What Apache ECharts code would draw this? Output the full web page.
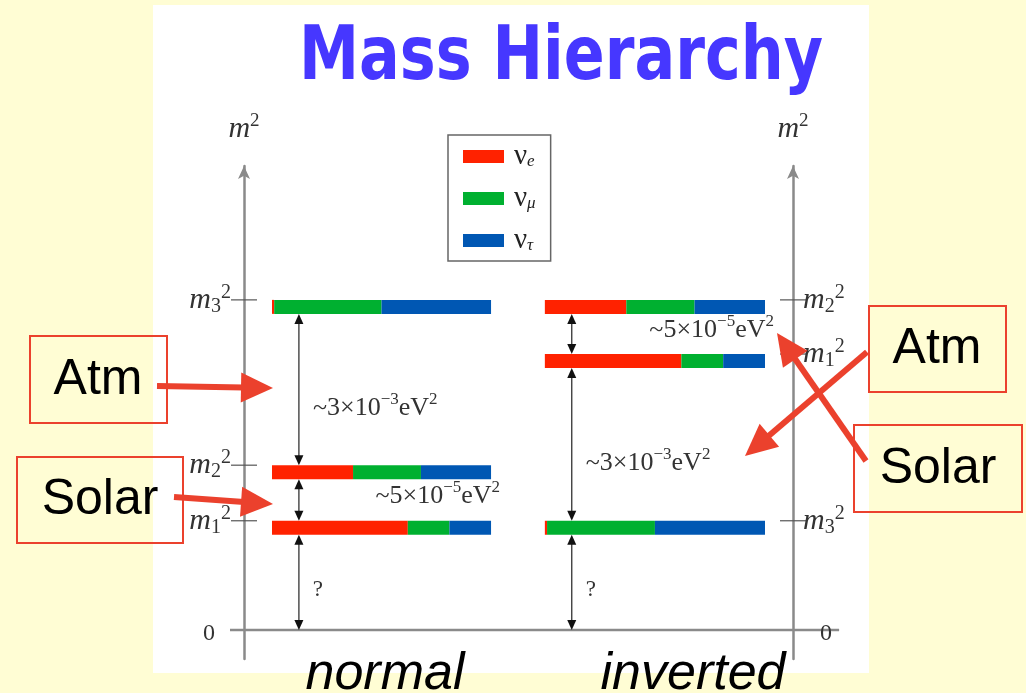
<!DOCTYPE html>
<html><head><meta charset="utf-8">
<script src="https://cdn.jsdelivr.net/npm/echarts@6/dist/echarts.min.js"></script>
<style>html,body{margin:0;padding:0;background:#FFFDD4;}#c{width:1026px;height:693px;}</style>
</head><body><div id="c"></div>
<script>
// ================= DATA =================
const titleText = 'Mass Hierarchy';
const hierarchyNames = ['normal', 'inverted'];
const flavorNames = ['νe', 'νμ', 'ντ'];
const massStates = ['1', '2', '3'];
// m1², m2², m3² levels (schematic units on the m² axis)
const normalLevels = [22.6, 34.1, 68.3];
const invertedLevels = [57.1, 68.3, 22.6];
// flavour content of m1, m2, m3
const fracE = [0.62, 0.37, 0.01];
const fracMu = [0.19, 0.31, 0.49];
const fracTau = [0.19, 0.32, 0.50];
const atmText = '~3×10{sup|−3}eV{sup|2}';
const solarText = '~5×10{sup|−5}eV{sup|2}';
const unknownText = '?';
const zeroLabel = '0';
const calloutNames = ['Atm', 'Solar'];

// ================= LAYOUT / STYLE =================
const LAYOUT = {
  barX: { normal: [5.1, 45.0], inverted: [54.8, 94.9] },
  arrowX: { normal: 10.0, inverted: 59.7 },
  axisX: { normal: 0, inverted: 100 },
  zeroExtent: [-2.55, 108.4],
  barH: 14
};
const COLORS = ['#FF2200', '#00B030', '#0057B3'];
const RED = '#EB412D';
const SERIF = '"Liberation Serif", "DejaVu Serif", serif';
const SANS = '"Liberation Sans", Arial, sans-serif';

const fracs = [fracE, fracMu, fracTau];
function levelsOf(h) { return h === 'normal' ? normalLevels : invertedLevels; }

// segments per flavour
function segData(fi) {
  const out = [];
  hierarchyNames.forEach(h => {
    levelsOf(h).forEach((level, si) => {
      let start = 0;
      for (let k = 0; k < fi; k++) start += fracs[k][si];
      out.push([LAYOUT.barX[h][0], LAYOUT.barX[h][1], level, start, fracs[fi][si]]);
    });
  });
  return out;
}
function renderSeg(params, api) {
  const x0 = api.value(0), x1 = api.value(1), lvl = api.value(2), s = api.value(3), f = api.value(4);
  const a = api.coord([x0 + (x1 - x0) * s, lvl]);
  const b = api.coord([x0 + (x1 - x0) * (s + f), lvl]);
  return { type: 'rect', shape: { x: a[0], y: a[1], width: b[0] - a[0], height: LAYOUT.barH },
    style: { fill: api.visual('color') } };
}

// gaps between consecutive levels
const gapItems = [];
hierarchyNames.forEach(h => {
  const lv = levelsOf(h).slice().sort((a, b) => b - a);
  for (let i = 0; i < lv.length; i++) {
    const upper = lv[i], lower = i + 1 < lv.length ? lv[i + 1] : 0;
    let kind = 'unknown';
    if (lower > 0) kind = (upper - lower) > 20 ? 'atm' : 'solar';
    gapItems.push({ h, upper, lower, kind });
  }
});
const gapRich = {
  sup: { fontFamily: SERIF, fontSize: 17, lineHeight: 34, verticalAlign: 'top', fill: '#333', color: '#333' }
};
function renderGap(params, api) {
  const g = gapItems[params.dataIndex];
  const ax = LAYOUT.arrowX[g.h];
  const top = api.coord([ax, g.upper]);
  const bot = api.coord([ax, g.lower]);
  const x = top[0], y1 = top[1] + LAYOUT.barH, y2 = bot[1];
  const hw = 4.5, hl = 10;
  const ch = [
    { type: 'line', shape: { x1: x, y1: y1 + 6, x2: x, y2: y2 - 6 }, style: { stroke: '#333', lineWidth: 1.3 } },
    { type: 'polygon', shape: { points: [[x, y1], [x - hw, y1 + hl], [x + hw, y1 + hl]] }, style: { fill: '#111' } },
    { type: 'polygon', shape: { points: [[x, y2], [x - hw, y2 - hl], [x + hw, y2 - hl]] }, style: { fill: '#111' } }
  ];
  let txt, tx, ty, align, fs = 26;
  if (g.kind === 'atm') { txt = atmText; tx = x + 14; ty = y1 + (y2 - y1) * 0.62; align = 'left'; }
  else if (g.kind === 'solar') { txt = solarText; tx = api.coord([LAYOUT.barX[g.h][1], 0])[0] + 9; ty = y1 + (y2 - y1) * 0.4; align = 'right'; }
  else { txt = unknownText; tx = x + 19; ty = y1 + (y2 - y1) * 0.58; align = 'center'; fs = 23; }
  ch.push({ type: 'text', x: tx, y: ty, style: { text: txt, font: fs + 'px ' + SERIF, fill: '#333', align: align,
    verticalAlign: 'middle', lineHeight: 34, rich: gapRich } });
  return { type: 'group', children: ch };
}

// axis level ticks & labels
const tickItems = [];
hierarchyNames.forEach((h, hi) => {
  levelsOf(h).forEach((level, si) => tickItems.push({ h, level, label: '{m|m}{sub|' + massStates[si] + '}{sup|2}' }));
  tickItems.push({ h, level: 0, label: zeroLabel });
});
const mRich = {
  m: { fontFamily: SERIF, fontStyle: 'italic', fontSize: 30, lineHeight: 34, fill: '#333', color: '#333' },
  sub: { fontFamily: SERIF, fontSize: 20, lineHeight: 34, verticalAlign: 'bottom', fill: '#333', color: '#333' },
  sup: { fontFamily: SERIF, fontSize: 20, lineHeight: 34, verticalAlign: 'top', fill: '#333', color: '#333' }
};
function renderTick(params, api) {
  const t = tickItems[params.dataIndex];
  const p = api.coord([LAYOUT.axisX[t.h], t.level]);
  const left = t.h === 'normal';
  const ch = [];
  if (t.level > 0) {
    ch.push({ type: 'line', shape: { x1: p[0] - 13, y1: p[1], x2: p[0] + 13, y2: p[1] }, style: { stroke: '#555', lineWidth: 1.2 } });
    ch.push({ type: 'text', x: left ? p[0] - 13 : p[0] + 10, y: p[1], style: { text: t.label, align: left ? 'right' : 'left',
      verticalAlign: 'middle', rich: mRich, font: '30px ' + SERIF, lineHeight: 34 } });
  } else {
    ch.push({ type: 'text', x: left ? p[0] - 35 : p[0] + 33, y: p[1] + 4, style: { text: t.label, align: 'center',
      verticalAlign: 'middle', font: '24px ' + SERIF, fill: '#333' } });
  }
  return { type: 'group', children: ch };
}

function renderZero(params, api) {
  const a = api.coord([api.value(0), 0]), b = api.coord([api.value(1), 0]);
  return { type: 'line', shape: { x1: a[0], y1: a[1], x2: b[0], y2: b[1] }, style: { stroke: '#8a8a8a', lineWidth: 2.5 } };
}

// ================= GRAPHICS (annotations) =================
function redArrow(x1, y1, x2, y2) {
  const dx = x2 - x1, dy = y2 - y1, len = Math.hypot(dx, dy), ux = dx / len, uy = dy / len;
  const hl = 32, hw = 15;
  const bx = x2 - ux * hl, by = y2 - uy * hl;
  return [
    { type: 'line', z: 100, shape: { x1, y1, x2: bx + ux * 3, y2: by + uy * 3 }, style: { stroke: RED, lineWidth: 6 } },
    { type: 'polygon', z: 100, shape: { points: [[x2, y2], [bx - uy * hw, by + ux * hw], [bx + uy * hw, by - ux * hw]] }, style: { fill: RED } }
  ];
}
function box(x, y, w, h, label, cx, cy) {
  return [
    { type: 'rect', z: 100, shape: { x, y, width: w, height: h }, style: { fill: 'none', stroke: RED, lineWidth: 2 } },
    { type: 'text', z: 100, x: cx, y: cy, style: { text: label, font: '50px ' + SANS, fill: '#000', align: 'center', verticalAlign: 'middle' } }
  ];
}
const TITLE_FONT = 'bold 74px "DejaVu Sans"';
const mctx = document.createElement('canvas').getContext('2d');
mctx.font = TITLE_FONT;
const titleW = mctx.measureText(titleText).width;

const graphics = [
  { type: 'rect', z: -10, shape: { x: 153, y: 5, width: 716, height: 668 }, style: { fill: '#fff' } },
  { type: 'text', z: 100, x: 299, y: 60, scaleX: 524 / titleW, style: { text: titleText, font: TITLE_FONT, fill: '#4637FF', align: 'left', verticalAlign: 'middle' } },
  { type: 'text', z: 100, x: 385, y: 675, style: { text: hierarchyNames[0], font: 'italic 52px ' + SANS, fill: '#000', align: 'center', verticalAlign: 'middle' } },
  { type: 'text', z: 100, x: 693, y: 675, style: { text: hierarchyNames[1], font: 'italic 52px ' + SANS, fill: '#000', align: 'center', verticalAlign: 'middle' } }
].concat(
  box(30, 336, 137, 87, calloutNames[0], 98, 380),
  box(17, 457, 166, 86, calloutNames[1], 100, 500),
  box(869, 306, 137, 86, calloutNames[0], 937, 349),
  box(854, 425, 168, 87, calloutNames[1], 938, 469),
  redArrow(157, 386, 273, 388),
  redArrow(174, 497, 273, 504),
  redArrow(867, 352, 745, 456),
  redArrow(866, 461, 777, 333)
);

// ================= CHART =================
const chart = echarts.init(document.getElementById('c'));
const yAxisBase = {
  type: 'value', min: -6, max: 96,
  axisLine: { show: true, onZero: false, symbol: ['none', 'arrow'], symbolSize: [9, 13], lineStyle: { color: '#8a8a8a', width: 2.5 } },
  axisTick: { show: false }, axisLabel: { show: false }, splitLine: { show: false },
  name: '{m|m}{s|2}', nameLocation: 'end', nameGap: 20,
  nameTextStyle: { rich: {
    m: { fontFamily: SERIF, fontStyle: 'italic', fontSize: 30, lineHeight: 34, color: '#333' },
    s: { fontFamily: SERIF, fontSize: 19, lineHeight: 34, verticalAlign: 'top', color: '#333' } } }
};
const option = {
  backgroundColor: '#FFFDD4',
  animation: false,
  color: COLORS,
  grid: { left: 244, right: 233, top: 166, bottom: 34 },
  xAxis: { type: 'value', min: 0, max: 100, show: false },
  yAxis: [Object.assign({ position: 'left' }, yAxisBase), Object.assign({ position: 'right' }, yAxisBase)],
  legend: {
    data: flavorNames, icon: 'rect', orient: 'vertical', left: 448, top: 135,
    itemWidth: 41, itemHeight: 13, itemGap: 13, padding: [7, 15, 6, 15],
    borderColor: '#666', borderWidth: 1.5, backgroundColor: '#fff', selectedMode: false,
    formatter: n => '{n|ν}{s|' + n.slice(1) + '}',
    textStyle: { width: 36, rich: {
      n: { fontFamily: SERIF, fontSize: 29, lineHeight: 28, padding: [0, 0, 0, 5], color: '#222' },
      s: { fontFamily: SERIF, fontStyle: 'italic', fontSize: 17, lineHeight: 28, verticalAlign: 'bottom', color: '#222' } } }
  },
  graphic: graphics,
  series: [
    { type: 'custom', name: 'zero', renderItem: renderZero, data: [LAYOUT.zeroExtent], encode: { x: [0, 1] }, silent: true, z: 1 },
    { type: 'custom', name: 'ticks', renderItem: renderTick, data: tickItems.map(t => [LAYOUT.axisX[t.h], t.level]), encode: { x: 0, y: 1 }, silent: true, z: 3 },
    { type: 'custom', name: 'gaps', renderItem: renderGap, data: gapItems.map(g => [LAYOUT.arrowX[g.h], g.upper, g.lower]), encode: { x: 0, y: [1, 2] }, silent: true, z: 3 }
  ].concat(flavorNames.map((n, fi) => ({
    type: 'custom', name: n, renderItem: renderSeg, data: segData(fi), encode: { x: [0, 1], y: 2 }, z: 4
  })))
};
chart.setOption(option);
</script></body></html>
